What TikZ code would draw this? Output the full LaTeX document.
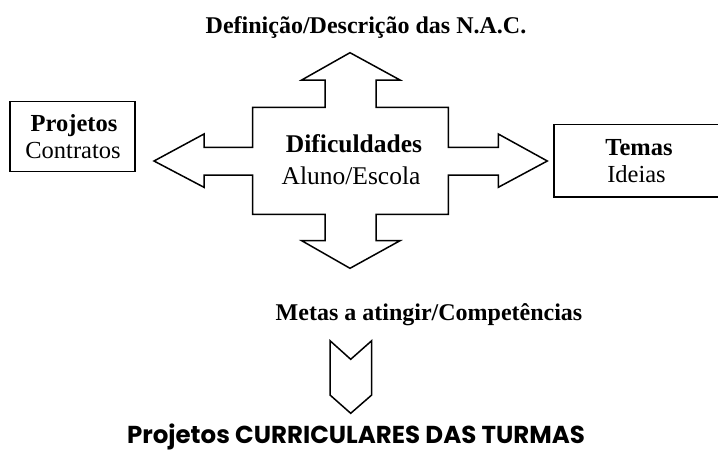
\documentclass[tikz,border=0pt]{standalone}
\usepackage{fontspec}
\setmainfont{Liberation Serif}
\newfontfamily\comicfont{Poppins}
\begin{document}
\begin{tikzpicture}[x=1pt,y=-1pt,
  shp/.style={draw=black, line width=1.5pt, line join=miter},
  boxline/.style={draw=black, line width=1.5pt},
  lbl/.style={anchor=base, inner sep=0pt},
  big/.style={font=\fontsize{25.5}{30}\selectfont},
  mid/.style={font=\fontsize{24.5}{29}\selectfont},
  ttl/.style={font=\fontsize{24}{28}\selectfont\bfseries}]
\useasboundingbox (0,0) rectangle (718,450);
\clip (0,0) rectangle (718,450);
% central four-way arrow
\draw[shp] (350,52.7) -- (400,80) -- (376,80) -- (376,107.3) -- (448.3,107.3) -- (448.3,147.3)
  -- (498.3,147.3) -- (498.3,134) -- (547.3,161) -- (498.3,187.3) -- (498.3,175) -- (448.3,175)
  -- (448.3,214.3) -- (376,214.3) -- (376,240.7) -- (400,240.7) -- (350,268.3) -- (301.7,240.7)
  -- (325,240.7) -- (325,214.3) -- (252.7,214.3) -- (252.7,175) -- (204,175) -- (204,187.3)
  -- (154,161) -- (204,134) -- (204,147.3) -- (252.7,147.3) -- (252.7,107.3) -- (325,107.3)
  -- (325,80) -- (301.7,80) -- cycle;
% boxes
\draw[boxline] (10,101.7) rectangle (135,171.7);
\draw[boxline] (554,124.7) rectangle (724,197);
% chevron
\draw[shp] (330,340.7) -- (350.7,359.3) -- (371.7,340.7) -- (371.7,395) -- (350.7,413.3) -- (330,395) -- cycle;
% texts
\node[lbl, ttl] (title) at (366,33.3) {Definição/Descrição das N.A.C.};
\node[lbl, big] (dif) at (354,152.3) {\bfseries Dificuldades};
\node[lbl, big] (alu) at (351,184) {Aluno/Escola};
\node[lbl, mid] (proj) at (74,131.7) {\bfseries Projetos};
\node[lbl, mid] (contr) at (73,158.3) {Contratos};
\node[lbl, mid] (tem) at (639,155.7) {\bfseries Temas};
\node[lbl, mid] (ide) at (636.5,182.7) {Ideias};
\node[lbl, ttl] (metas) at (429,320) {Metas a atingir/Competências};
\node[lbl, font=\fontsize{24.5}{28}\selectfont\comicfont\bfseries] (pct) at (356,443) {Projetos CURRICULARES DAS TURMAS};
\end{tikzpicture}
\end{document}
